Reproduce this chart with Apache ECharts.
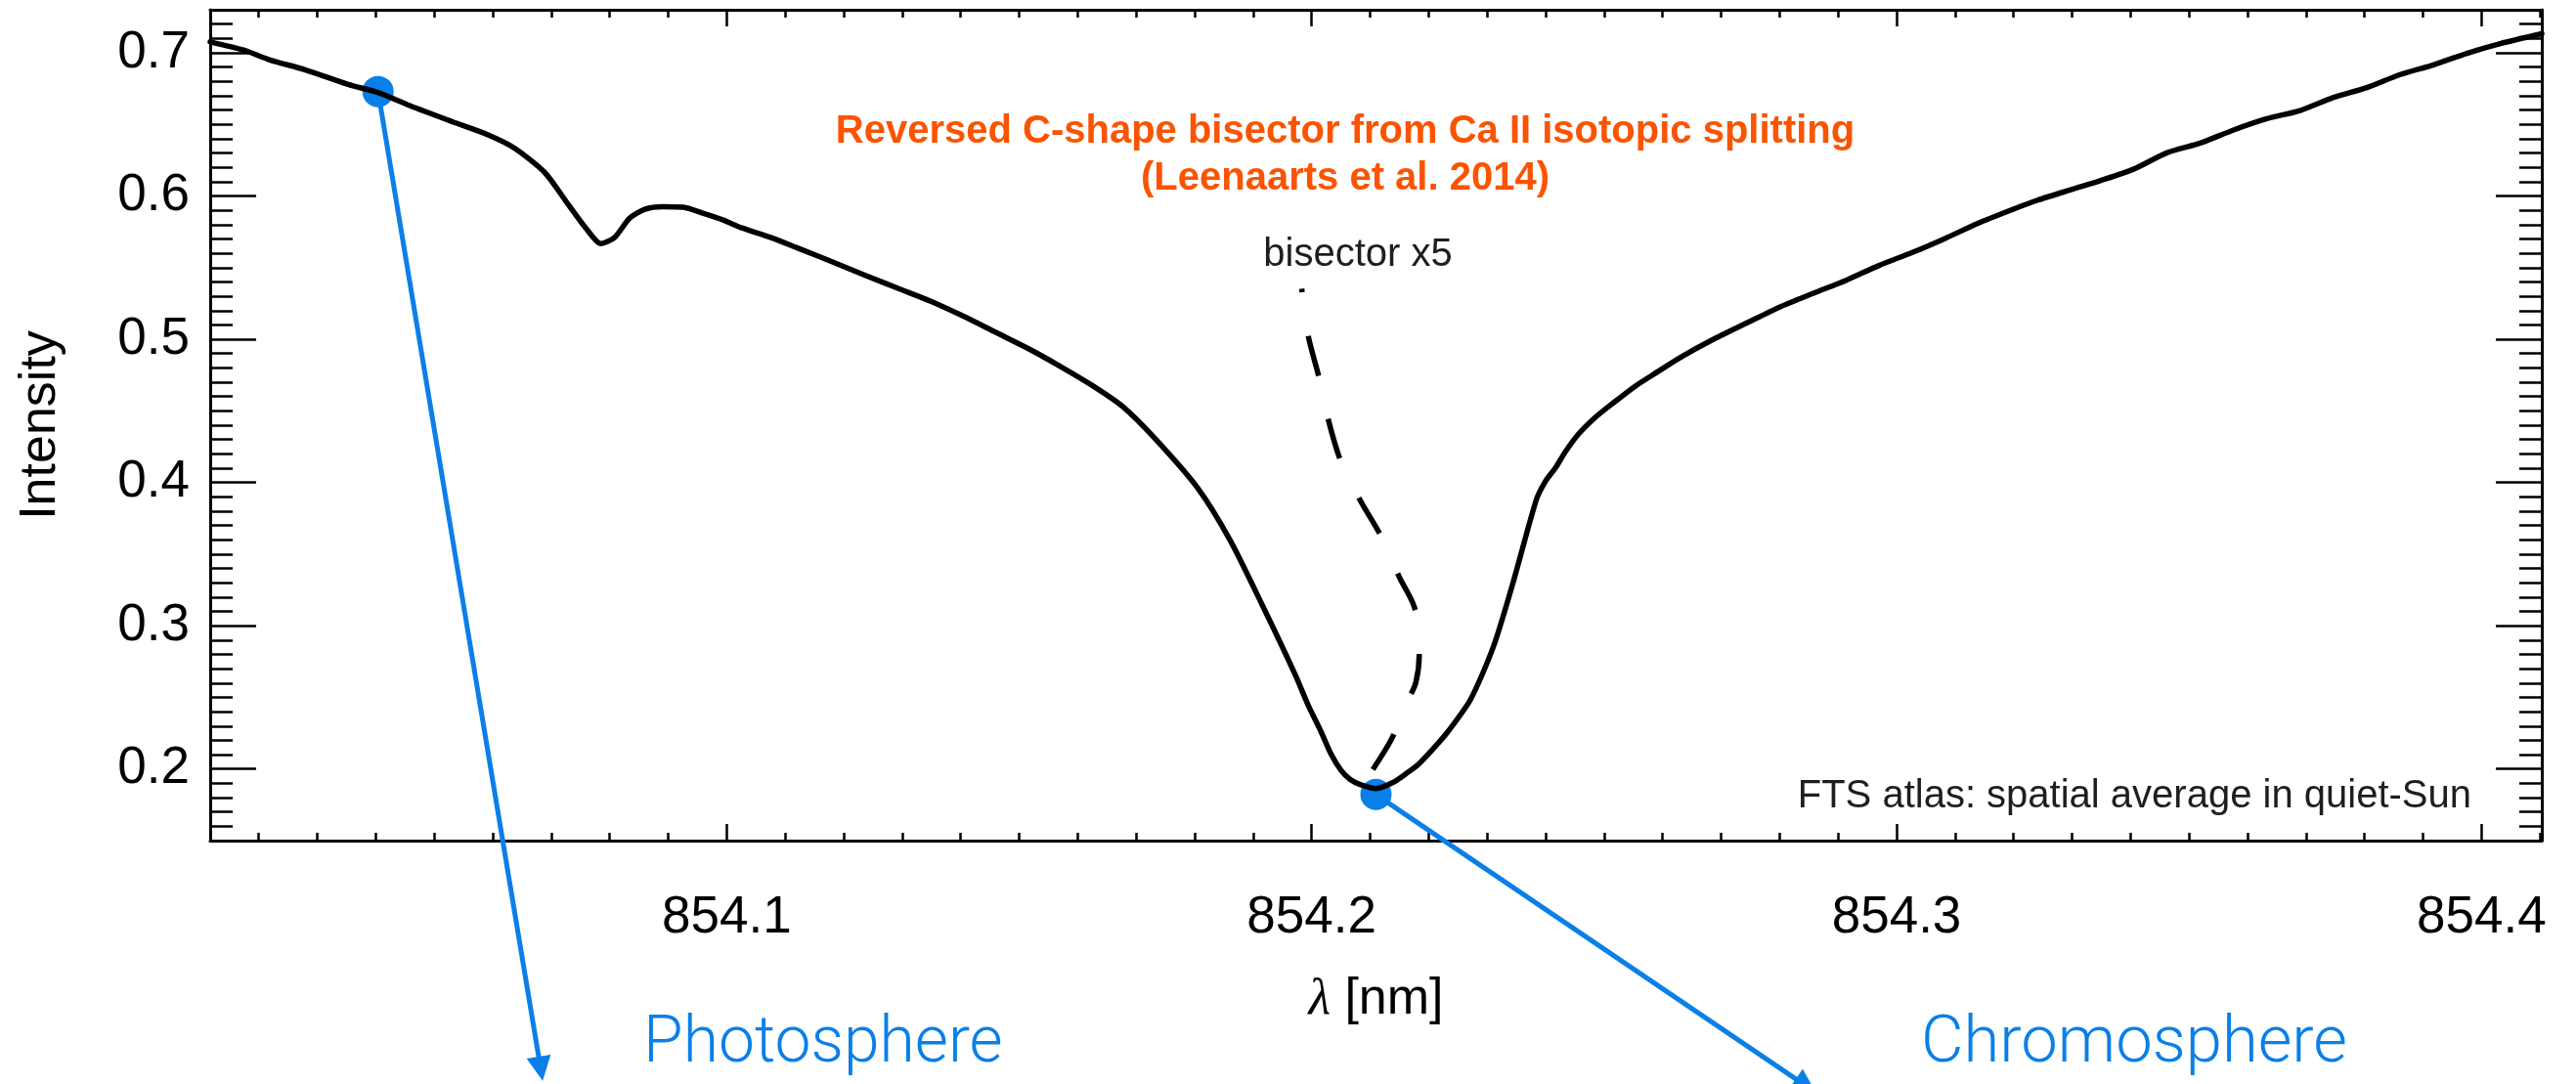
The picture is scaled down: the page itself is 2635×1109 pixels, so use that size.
<!DOCTYPE html>
<html><head><meta charset="utf-8">
<script src="https://cdn.jsdelivr.net/npm/echarts@6/dist/echarts.min.js"></script>
<style>html,body{margin:0;padding:0;background:#fff}#c{width:2635px;height:1109px}</style>
</head><body><div id="c"></div>
<script>
// ---- data ----
const profileLambda = [
  854.0117, 854.0174, 854.0219, 854.0279, 854.0353, 854.0404, 854.0458, 854.0532, 854.0592, 854.0637,
  854.0689, 854.0726, 854.0759, 854.0785, 854.0808, 854.0834, 854.0860, 854.0890, 854.0926, 854.0959,
  854.0993, 854.1026, 854.1076, 854.1126, 854.1182, 854.1237, 854.1293, 854.1349, 854.1404, 854.1460,
  854.1516, 854.1571, 854.1627, 854.1677, 854.1733, 854.1805, 854.1861, 854.1916, 854.1972, 854.1994,
  854.2016, 854.2033, 854.2050, 854.2066, 854.2083, 854.2110, 854.2139, 854.2161, 854.2183, 854.2208,
  854.2233, 854.2272, 854.2311, 854.2345, 854.2384, 854.2400,
  854.2417, 854.2434, 854.2457, 854.2485, 854.2513, 854.2553, 854.2592, 854.2632, 854.2688, 854.2745,
  854.2801, 854.2858, 854.2914, 854.2970, 854.3027, 854.3083, 854.3140, 854.3196, 854.3241, 854.3303,
  854.3348, 854.3405, 854.3462, 854.3519, 854.3576, 854.3633, 854.3690, 854.3747, 854.3804, 854.3861,
  854.3918, 854.3975, 854.4032, 854.4103
];
const profileIntensity = [
  0.7076, 0.7019, 0.6950, 0.6882, 0.6779, 0.6722, 0.6631, 0.6517, 0.6427, 0.6335,
  0.6164, 0.5959, 0.5777, 0.5668, 0.5709, 0.5845, 0.5907, 0.5925, 0.5921, 0.5880,
  0.5834, 0.5777, 0.5709, 0.5629, 0.5538, 0.5446, 0.5355, 0.5265, 0.5162, 0.5048,
  0.4934, 0.4809, 0.4672, 0.4530, 0.4303, 0.3962, 0.3594, 0.3141, 0.2658, 0.2446,
  0.2261, 0.2105, 0.1992, 0.1926, 0.1892, 0.1864, 0.1906, 0.1966, 0.2034, 0.2142,
  0.2261, 0.2488, 0.2857, 0.3310, 0.3878, 0.4010,
  0.4103, 0.4216, 0.4342, 0.4455, 0.4547, 0.4672, 0.4774, 0.4877, 0.5002, 0.5116,
  0.5226, 0.5321, 0.5412, 0.5515, 0.5606, 0.5704, 0.5811, 0.5902, 0.5971, 0.6050,
  0.6107, 0.6187, 0.6301, 0.6369, 0.6461, 0.6540, 0.6597, 0.6688, 0.6757, 0.6848,
  0.6916, 0.6996, 0.7064, 0.7133
];
const bisectorLambda = [
  854.1983, 854.1994, 854.2012, 854.2029, 854.2050, 854.2082, 854.2119, 854.2150,
  854.2172, 854.2182, 854.2184, 854.2178, 854.2164, 854.2136, 854.2097
];
const bisectorIntensity = [
  0.5353, 0.5026, 0.4743, 0.4431, 0.4147, 0.3883, 0.3623, 0.3339,
  0.3168, 0.3027, 0.2800, 0.2602, 0.2474, 0.2204, 0.1949
];
const xTickValues = [854.1, 854.2, 854.3, 854.4];
const yTickValues = [0.2, 0.3, 0.4, 0.5, 0.6, 0.7];
const xRange = [854.0117, 854.4103];
const yRange = [0.15, 0.73];
const photoPoint = [854.0404, 0.6729];
const chromoPoint = [854.2110, 0.1822];
const photoArrowEnd = [854.0682, -0.0092];
const chromoArrowEnd = [854.2845, -0.0212];

// minor tick positions (every 0.01)
const xMinor = [];
for (let i = 2; i <= 41; i++) xMinor.push(Math.round((854 + i * 0.01) * 100) / 100);
const yMinor = [];
for (let i = 15; i <= 73; i++) yMinor.push(Math.round(i) / 100);

const BLUE = '#0a7fe8';
const ORANGE = '#fa5400';
const SANS = '"Liberation Sans", Arial, Helvetica, sans-serif';
const LIGHT = 'Roboto, "Liberation Sans", sans-serif';

function xAx(grid, pos, major) {
  const a = {
    gridIndex: grid, type: 'value', position: pos, min: xRange[0], max: xRange[1],
    axisLine: { show: major, onZero: false, lineStyle: { color: '#000', width: 3 } },
    axisTick: { show: true, inside: true, length: major ? 17 : 8,
      customValues: major ? xTickValues : xMinor, lineStyle: { color: '#000', width: 2.5 } },
    axisLabel: { show: false },
    splitLine: { show: false }
  };
  if (major && pos === 'bottom') {
    a.axisLabel = { show: true, customValues: xTickValues, margin: 53, fontSize: 53,
      fontFamily: SANS, color: '#000', formatter: v => v.toFixed(1) };
    a.name = '{l|λ} [nm]';
    a.nameLocation = 'middle';
    a.nameGap = 137;
    a.nameTextStyle = { fontSize: 52, fontFamily: SANS, color: '#000',
      rich: { l: { fontSize: 52, fontFamily: '"Liberation Serif", "DejaVu Serif", serif', fontStyle: 'italic', color: '#000' } } };
  }
  return a;
}
function yAx(grid, pos, major) {
  const a = {
    gridIndex: grid, type: 'value', position: pos, min: yRange[0], max: yRange[1],
    axisLine: { show: major, onZero: false, lineStyle: { color: '#000', width: 3 } },
    axisTick: { show: true, inside: true, length: major ? 47 : 23,
      customValues: major ? yTickValues : yMinor, lineStyle: { color: '#000', width: 2.5 } },
    axisLabel: { show: false },
    splitLine: { show: false }
  };
  if (major && pos === 'left') {
    a.axisLabel = { show: true, customValues: yTickValues, margin: 21, fontSize: 53,
      fontFamily: SANS, color: '#000', padding: [14, 0, 0, 0], formatter: v => v.toFixed(1) };
    a.name = 'Intensity';
    a.nameLocation = 'middle';
    a.nameGap = 147;
    a.nameTextStyle = { fontSize: 52, fontFamily: SANS, color: '#000' };
  }
  return a;
}

const chart = echarts.init(document.getElementById('c'), null, { renderer: 'canvas' });
const gridRect = { left: 215, top: 10, right: 35, bottom: 249 };

chart.setOption({
  animation: false,
  backgroundColor: '#fff',
  grid: [Object.assign({}, gridRect), Object.assign({}, gridRect)],
  xAxis: [xAx(0, 'bottom', true), xAx(0, 'top', true), xAx(1, 'bottom', false), xAx(1, 'top', false)],
  yAxis: [yAx(0, 'left', true), yAx(0, 'right', true), yAx(1, 'left', false), yAx(1, 'right', false)],
  series: [
    {
      type: 'lines', coordinateSystem: 'cartesian2d', xAxisIndex: 0, yAxisIndex: 0,
      clip: false, silent: true, z: 2,
      symbol: ['none', 'triangle'], symbolSize: [1, 25],
      lineStyle: { color: BLUE, width: 5, opacity: 1, curveness: 0 },
      itemStyle: { color: BLUE },
      data: [
        { coords: [photoPoint, photoArrowEnd] },
        { coords: [chromoPoint, chromoArrowEnd] }
      ]
    },
    {
      type: 'scatter', xAxisIndex: 0, yAxisIndex: 0, clip: false, silent: true, z: 3,
      symbol: 'circle', symbolSize: 32, itemStyle: { color: BLUE, opacity: 1 },
      data: [photoPoint, chromoPoint]
    },
    {
      type: 'line', xAxisIndex: 0, yAxisIndex: 0, z: 4, silent: true,
      showSymbol: false, symbol: 'none', smooth: 0.25,
      lineStyle: { color: '#000', width: 5.5, join: 'round', cap: 'round' },
      data: profileLambda.map((x, i) => [x, profileIntensity[i]])
    },
    {
      type: 'line', xAxisIndex: 0, yAxisIndex: 0, z: 4, silent: true,
      showSymbol: false, symbol: 'none', smooth: 0.3,
      lineStyle: { color: '#000', width: 5.5, type: [42, 45], dashOffset: 38 },
      data: bisectorLambda.map((x, i) => [x, bisectorIntensity[i]])
    }
  ],
  graphic: [
    { type: 'text', z: 10, style: { text: 'Reversed C-shape bisector from Ca II isotopic splitting',
      x: 1376, y: 134.6, align: 'center', verticalAlign: 'middle',
      font: 'bold 40px ' + SANS, fill: ORANGE } },
    { type: 'text', z: 10, style: { text: '(Leenaarts et al. 2014)',
      x: 1376, y: 183, align: 'center', verticalAlign: 'middle',
      font: 'bold 40px ' + SANS, fill: ORANGE } },
    { type: 'text', z: 10, style: { text: 'bisector x5',
      x: 1389, y: 261, align: 'center', verticalAlign: 'middle',
      font: '40px ' + SANS, fill: '#1e1e1e' } },
    { type: 'text', z: 10, style: { text: 'FTS atlas: spatial average in quiet-Sun',
      x: 2528, y: 815, align: 'right', verticalAlign: 'middle',
      font: '40px ' + SANS, fill: '#1e1e1e' } },
    { type: 'text', z: 10, style: { text: 'Photosphere',
      x: 658, y: 1069, align: 'left', verticalAlign: 'middle',
      font: '300 66px ' + LIGHT, fill: BLUE } },
    { type: 'text', z: 10, style: { text: 'Chromosphere',
      x: 1965, y: 1069, align: 'left', verticalAlign: 'middle',
      font: '300 67px ' + LIGHT, fill: BLUE } }
  ]
});
</script>
</body></html>
